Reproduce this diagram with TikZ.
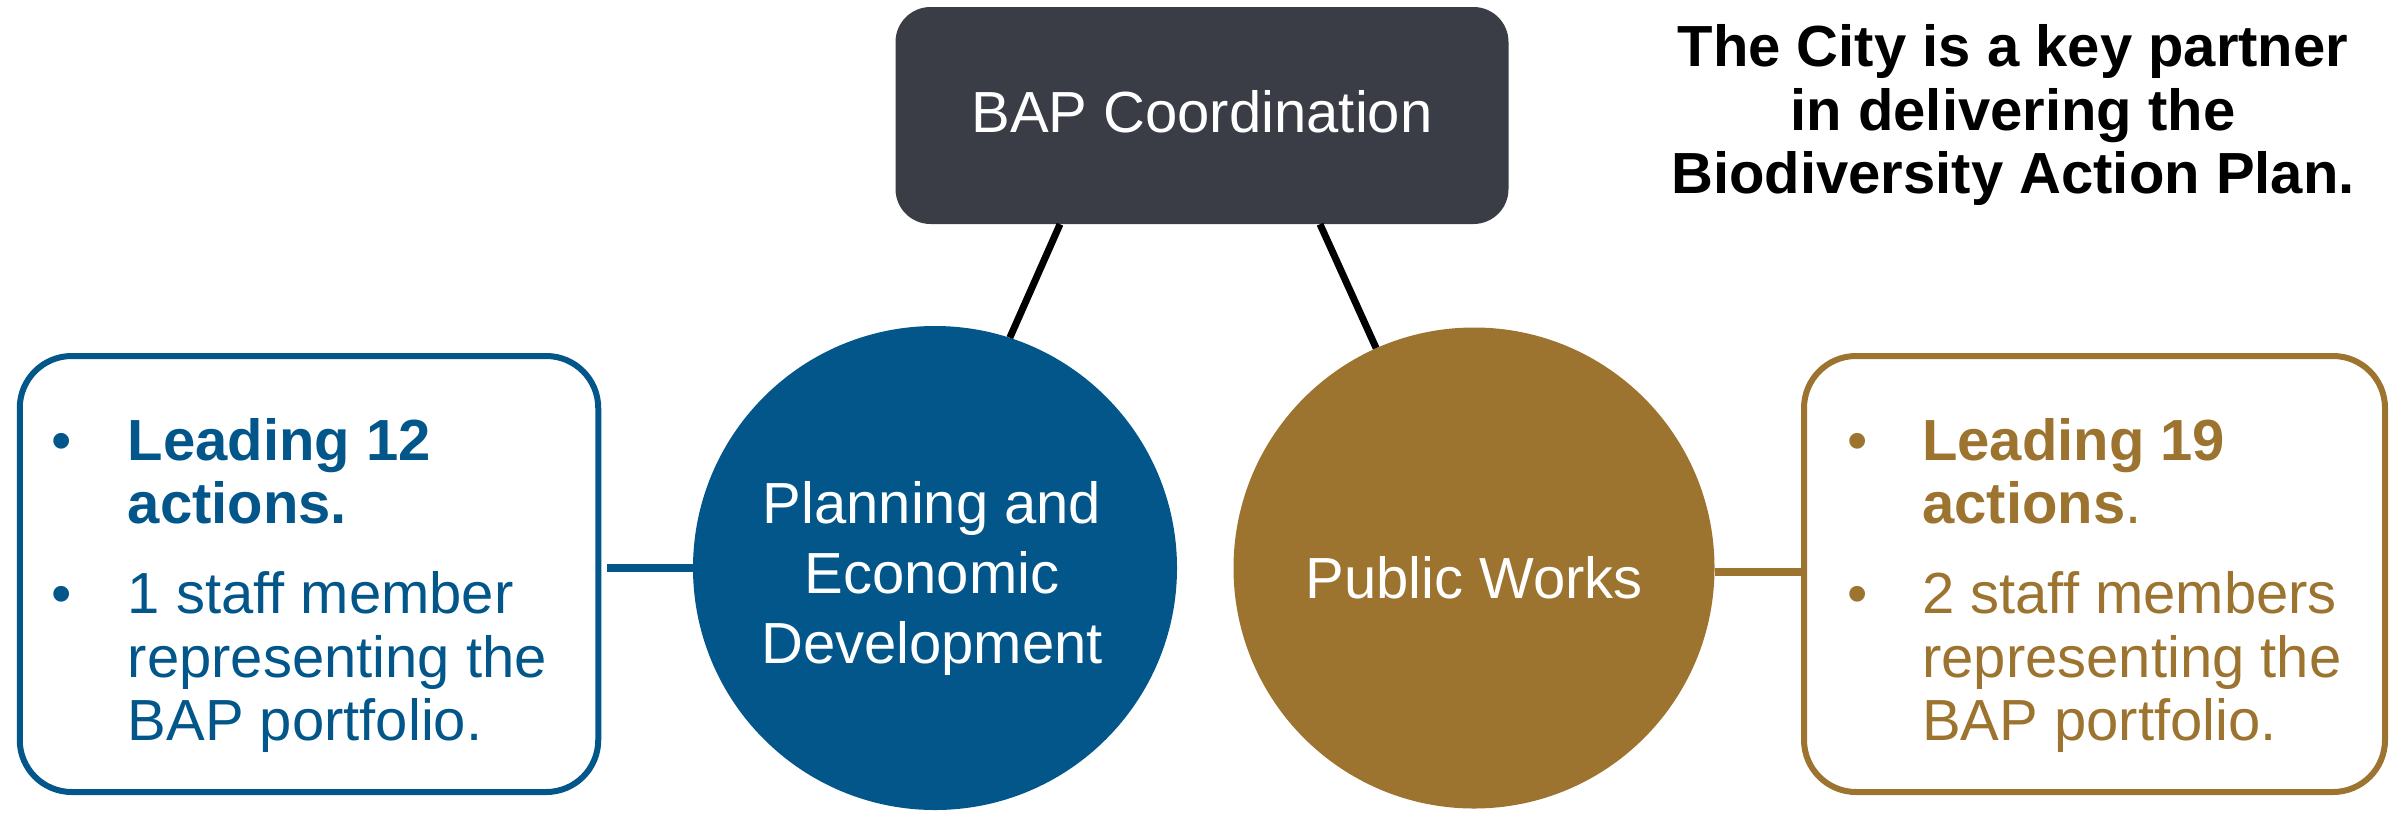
\documentclass[tikz,border=0pt]{standalone}
\usepackage{fontspec}
\setmainfont{Liberation Sans}
\definecolor{pblue}{HTML}{02568A}
\definecolor{pgold}{HTML}{9C7430}
\definecolor{pdark}{HTML}{3A3D45}
\tikzset{
  infobox/.style={draw, line width=6pt, rounded corners=52pt, inner sep=0pt, fill=white},
  bigtext/.style={font=\fontsize{58}{64}\selectfont, inner sep=0pt, anchor=base},
  linetext/.style={font=\fontsize{58}{64}\selectfont, inner sep=0pt, anchor=base west},
  dot/.style={font=\fontsize{58}{64}\selectfont, inner sep=0pt, anchor=base},
  orgcircle/.style={circle, inner sep=0pt},
  link/.style={line width=7pt, black},
  sidelink/.style={line width=8pt}
}
\begin{document}
\begin{tikzpicture}[x=1pt, y=-1pt]
\useasboundingbox (0,0) rectangle (2403,812);
% top box
\node[fill=pdark, rounded corners=35pt, minimum width=613pt, minimum height=217pt, inner sep=0pt] (bap) at (1202,115.5) {};
\node[bigtext, text=white] (baptext) at (1202,132) {BAP Coordination};
% circles
\node[orgcircle, fill=pblue, minimum size=484pt] (pc) at (935,568) {};
\node[orgcircle, fill=pgold, minimum size=481pt] (pw) at (1474,568) {};
\node[bigtext, text=white] (pc1) at (932,523) {Planning and};
\node[bigtext, text=white] (pc2) at (932,593) {Economic};
\node[bigtext, text=white] (pc3) at (932,663) {Development};
\node[bigtext, text=white] (pw1) at (1474,598) {Public Works};
% side boxes
\node[infobox, draw=pblue, minimum width=578.5pt, minimum height=436pt] (lbox) at (309,574) {};
\node[infobox, draw=pgold, minimum width=581pt, minimum height=436pt] (rbox) at (2094.5,574) {};
% connectors
\coordinate (bapL) at ([xshift=-142pt]bap.south);
\coordinate (bapR) at ([xshift=118pt]bap.south);
\coordinate (lgap) at ([xshift=6pt]pc.west -| lbox.east);
\draw[link] (bapL) -- (pc.72);
\draw[link] (bapR) -- (pw.114);
\draw[sidelink, pblue] (pc.west) -- (lgap);
\draw[sidelink, pgold] ([yshift=-4pt]pw.east) -- ([yshift=-4pt]pw.east -| rbox.west);
% left box text
\node[dot, text=pblue] (lb1) at (62,460) {•};
\node[linetext, text=pblue] (l1a) at (127.6,460) {\bfseries Leading 12};
\node[linetext, text=pblue] (l1b) at (127.6,523) {\bfseries actions.};
\node[dot, text=pblue] (lb2) at (62,613) {•};
\node[linetext, text=pblue] (l2a) at (127.6,613) {1 staff member};
\node[linetext, text=pblue] (l2b) at (127.6,677) {representing the};
\node[linetext, text=pblue] (l2c) at (127.6,740) {BAP portfolio.};
% right box text
\node[dot, text=pgold] (rb1) at (1857.5,460) {•};
\node[linetext, text=pgold] (r1a) at (1922,460) {\bfseries Leading 19};
\node[linetext, text=pgold] (r1b) at (1922,523) {{\bfseries actions}.};
\node[dot, text=pgold] (rb2) at (1857.5,613) {•};
\node[linetext, text=pgold] (r2a) at (1922,613) {2 staff members};
\node[linetext, text=pgold] (r2b) at (1922,677) {representing the};
\node[linetext, text=pgold] (r2c) at (1922,740) {BAP portfolio.};
% title
\node[bigtext, font=\fontsize{58}{64}\selectfont\bfseries] (t1) at (2013,66) {The City is a key partner};
\node[bigtext, font=\fontsize{58}{64}\selectfont\bfseries] (t2) at (2013,130) {in delivering the};
\node[bigtext, font=\fontsize{58}{64}\selectfont\bfseries] (t3) at (2013,193) {Biodiversity Action Plan.};
\end{tikzpicture}
\end{document}
